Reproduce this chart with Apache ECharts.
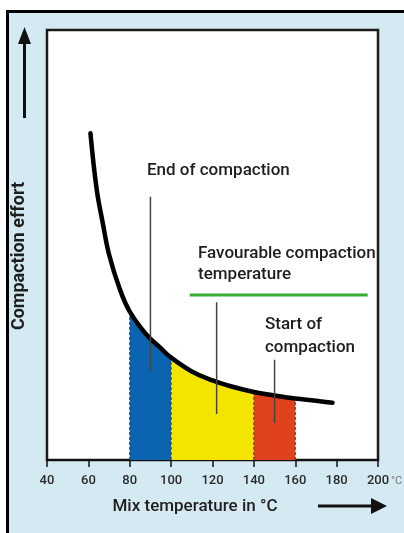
<!DOCTYPE html>
<html lang="en">
    <head>
        <meta charset="utf-8" />
        <title>Compaction effort vs mix temperature</title>
        <style type="text/css">
            html, body { margin: 0; padding: 0; background: #ffffff; }
            #chart { width: 404px; height: 533px; }
        </style>
    </head>
    <body>
        <div id="chart"></div>
        <script src="https://cdn.jsdelivr.net/npm/echarts@6/dist/echarts.min.js"></script>
        <script>
            //----------Data----------//
            const xTicks = [40, 60, 80, 100, 120, 140, 160, 180, 200];
            const tempC  = [61, 64, 67, 70, 75, 80, 88, 95, 100, 110, 120, 127, 140, 150, 160, 170, 178];
            const effort = [76, 63, 55, 47.8, 40, 34.5, 29.2, 26, 23.8, 20.6, 18.5, 17.4, 15.8, 15, 14.3, 13.8, 13.3];

            // zone limits (blue / yellow / red)
            const zoneLimits = [80, 100, 140, 160];

            // favourable range marker (green bar)
            const favourableX = [109, 195];
            const favourableY = 38.4;

            // pointer lines under the three notes: [x, yTop, yBottom]
            const pointers = [
                [90, 61.2, 20.5],
                [122, 36.7, 10.7],
                [150, 23.3, 8.6]
            ];

            const curve = tempC.map((t, i) => [t, effort[i]]);
            const effortAt = (t) => effort[tempC.indexOf(t)];
            const zoneColors = ['#0b64b0', '#f4e500', '#df421d'];

            const FONT = 'Roboto';

            let chart = echarts.init(document.querySelector('#chart'), null, { renderer: 'canvas' });

            let series = [];

            // coloured zones
            for (let i = 0; i < zoneLimits.length - 1; i++) {
                const a = zoneLimits[i], b = zoneLimits[i + 1];
                series.push({
                    type: 'line',
                    smooth: 0.4,
                    symbol: 'none',
                    data: curve.filter(p => p[0] >= a && p[0] <= b),
                    lineStyle: { width: 0 },
                    areaStyle: { color: zoneColors[i], opacity: 1, origin: 'start' },
                    z: 1
                });
            }

            // dashed edges of the zones
            zoneLimits.forEach((t) => {
                series.push({
                    type: 'line',
                    symbol: 'none',
                    data: [[t, 0], [t, effortAt(t)]],
                    lineStyle: { color: '#3a3a3a', width: 1, type: [3, 2] },
                    z: 2
                });
            });

            // the curve itself
            series.push({
                type: 'line',
                smooth: 0.4,
                symbol: 'none',
                data: curve,
                lineStyle: { color: '#000', width: 4.5, cap: 'round' },
                z: 5
            });

            // pointer lines
            pointers.forEach((p) => {
                series.push({
                    type: 'line',
                    symbol: 'none',
                    data: [[p[0], p[1]], [p[0], p[2]]],
                    lineStyle: { color: '#444', width: 1.5 },
                    z: 6
                });
            });

            // green favourable bar
            series.push({
                type: 'line',
                symbol: 'none',
                data: [[favourableX[0], favourableY], [favourableX[1], favourableY]],
                lineStyle: { color: '#3aab35', width: 3 },
                z: 6
            });

            const txt = (x, y, text, extra) => Object.assign({
                type: 'text',
                left: x,
                top: y,
                z: 100,
                style: Object.assign({
                    text: text,
                    fill: '#1e1e1e',
                    font: '500 17px ' + FONT
                }, extra || {})
            });

            const option = {
                backgroundColor: 'transparent',
                animation: false,
                grid: {
                    left: 47, right: 26, top: 30, bottom: 73,
                    show: true,
                    backgroundColor: '#ffffff',
                    borderColor: '#1a1a1a',
                    borderWidth: 2.5
                },
                xAxis: {
                    type: 'value',
                    min: xTicks[0],
                    max: xTicks[xTicks.length - 1],
                    interval: 20,
                    axisLine: { lineStyle: { color: '#111', width: 2 } },
                    axisTick: { show: true, length: 7, lineStyle: { color: '#111', width: 1.5 } },
                    axisLabel: { color: '#2a2a2a', fontSize: 13, fontFamily: FONT, fontWeight: 500, margin: 14 },
                    splitLine: { show: false }
                },
                yAxis: {
                    type: 'value',
                    min: 0,
                    max: 100,
                    show: false
                },
                graphic: [
                    // panel background with black frame
                    {
                        type: 'rect', z: -10, silent: true,
                        shape: { x: 7.5, y: 11.5, width: 420, height: 540 },
                        style: { fill: '#d5e9f2', stroke: '#000', lineWidth: 3 }
                    },
                    // up arrow
                    {
                        type: 'line', z: 10,
                        shape: { x1: 24.5, y1: 118, x2: 24.5, y2: 40 },
                        style: { stroke: '#111', lineWidth: 3 }
                    },
                    {
                        type: 'polygon', z: 10,
                        shape: { points: [[18, 44], [31, 44], [24.5, 27]] },
                        style: { fill: '#111' }
                    },
                    // right arrow
                    {
                        type: 'line', z: 10,
                        shape: { x1: 318, y1: 506, x2: 375, y2: 506 },
                        style: { stroke: '#111', lineWidth: 3 }
                    },
                    {
                        type: 'polygon', z: 10,
                        shape: { points: [[371, 498], [371, 514], [387, 506]] },
                        style: { fill: '#111' }
                    },
                    // y title
                    {
                        type: 'text', z: 10,
                        x: 19, y: 256, rotation: Math.PI / 2,
                        style: {
                            text: 'Compaction effort',
                            fill: '#1e1e1e',
                            font: 'bold 18px ' + FONT,
                            align: 'center',
                            verticalAlign: 'middle'
                        }
                    },
                    // x title
                    {
                        type: 'text', z: 10,
                        x: 195, y: 507,
                        style: {
                            text: 'Mix temperature in °C',
                            fill: '#1e1e1e',
                            font: '500 17px ' + FONT,
                            align: 'center',
                            verticalAlign: 'middle'
                        }
                    },
                    {
                        type: 'text', z: 10,
                        x: 391, y: 481,
                        style: { text: '°C', fill: '#777', font: '11px ' + FONT, verticalAlign: 'middle' }
                    },
                    // notes
                    txt(147, 162, 'End of compaction'),
                    txt(198, 243, 'Favourable compaction\ntemperature', { lineHeight: 21 }),
                    txt(265, 313, 'Start of\ncompaction', { lineHeight: 23 })
                ],
                series: series
            };

            chart.setOption(option);
        </script>
    </body>
</html>
